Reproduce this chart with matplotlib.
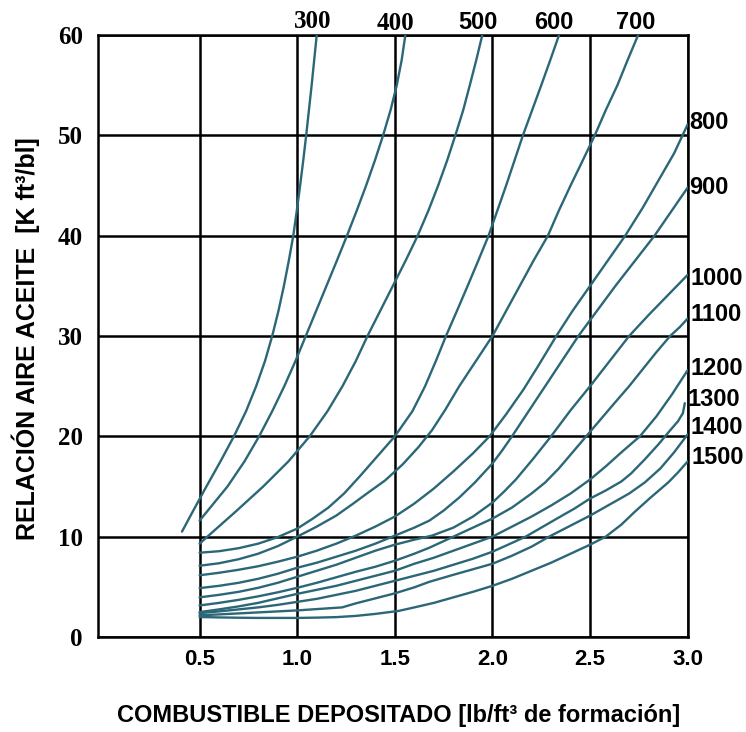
import matplotlib
matplotlib.use("Agg")
import matplotlib.pyplot as plt

# curve families, labelled by temperature
temps = [300, 400, 500, 600, 700, 800, 900, 1000, 1100, 1200, 1300, 1400, 1500]

x300 = [0.41, 0.465, 0.535, 0.607, 0.676, 0.738, 0.79, 0.835, 0.872, 0.904, 0.932, 0.957, 0.98, 0.998, 1.015, 1.031, 1.046, 1.06, 1.074, 1.087, 1.10]
y300 = [10.5, 12.5, 15.0, 17.5, 20.0, 22.5, 25.0, 27.5, 30.0, 32.5, 35.0, 37.5, 40.0, 42.5, 45.0, 47.5, 50.0, 52.5, 55.0, 57.5, 60.0]

x400 = [0.50, 0.538, 0.643, 0.73, 0.805, 0.872, 0.934, 0.991, 1.044, 1.097, 1.15, 1.203, 1.255, 1.305, 1.353, 1.398, 1.44, 1.478, 1.51, 1.535, 1.554]
y400 = [11.6, 12.5, 15.0, 17.5, 20.0, 22.5, 25.0, 27.5, 30.0, 32.5, 35.0, 37.5, 40.0, 42.5, 45.0, 47.5, 50.0, 52.5, 55.0, 57.5, 60.0]

x500 = [0.50, 0.54, 0.685, 0.826, 0.955, 1.064, 1.155, 1.232, 1.30, 1.36, 1.425, 1.49, 1.555, 1.617, 1.672, 1.722, 1.768, 1.81, 1.85, 1.884, 1.917, 1.948]
y500 = [9.3, 10.0, 12.5, 15.0, 17.5, 20.0, 22.5, 25.0, 27.5, 30.0, 32.5, 35.0, 37.5, 40.0, 42.5, 45.0, 47.5, 50.0, 52.5, 55.0, 57.5, 60.0]

x600 = [0.50, 0.60, 0.70, 0.80, 0.90, 1.00, 1.08, 1.16, 1.24, 1.32, 1.41, 1.50, 1.59, 1.655, 1.71, 1.762, 1.818, 1.873, 1.927, 1.98, 2.025, 2.07, 2.113, 2.156, 2.203, 2.25, 2.296, 2.341]
y600 = [8.4, 8.55, 8.85, 9.3, 9.95, 10.8, 11.8, 12.9, 14.3, 16.0, 18.0, 20.0, 22.5, 25.0, 27.5, 30.0, 32.5, 35.0, 37.5, 40.0, 42.5, 45.0, 47.5, 50.0, 52.5, 55.0, 57.5, 60.0]

x700 = [0.50, 0.60, 0.70, 0.80, 0.90, 1.00, 1.10, 1.20, 1.28, 1.357, 1.45, 1.54, 1.62, 1.69, 1.76, 1.83, 1.915, 2.00, 2.07, 2.14, 2.21, 2.284, 2.34, 2.40, 2.46, 2.524, 2.58, 2.64, 2.69, 2.746]
y700 = [7.1, 7.35, 7.75, 8.3, 9.05, 10.0, 11.0, 12.1, 13.2, 14.3, 15.6, 17.2, 18.9, 20.6, 22.7, 25.0, 27.5, 30.0, 32.5, 35.0, 37.5, 40.0, 42.5, 45.0, 47.4, 50.0, 52.5, 55.0, 57.4, 60.0]

x800 = [0.50, 0.60, 0.70, 0.80, 0.90, 1.00, 1.10, 1.20, 1.30, 1.40, 1.50, 1.60, 1.70, 1.80, 1.90, 1.985, 2.07, 2.16, 2.24, 2.327, 2.41, 2.50, 2.59, 2.68, 2.77, 2.85, 2.93, 3.00]
y800 = [6.15, 6.4, 6.7, 7.05, 7.5, 8.0, 8.6, 9.3, 10.1, 11.0, 12.0, 13.3, 14.8, 16.5, 18.3, 20.0, 22.2, 24.7, 27.2, 30.0, 32.5, 35.0, 37.5, 40.0, 42.8, 45.5, 48.2, 51.1]

x900 = [0.50, 0.60, 0.70, 0.80, 0.90, 1.00, 1.10, 1.20, 1.30, 1.40, 1.50, 1.60, 1.677, 1.75, 1.83, 1.91, 2.00, 2.05, 2.10, 2.185, 2.27, 2.355, 2.44, 2.535, 2.63, 2.73, 2.83, 2.915, 3.00]
y900 = [4.87, 5.1, 5.4, 5.8, 6.3, 6.9, 7.4, 8.0, 8.6, 9.3, 10.1, 10.9, 11.6, 12.6, 13.9, 15.4, 17.3, 18.6, 20.0, 22.5, 25.0, 27.5, 30.0, 32.5, 35.0, 37.5, 40.0, 42.4, 44.8]

x1000 = [0.50, 0.60, 0.70, 0.80, 0.90, 1.00, 1.10, 1.20, 1.30, 1.40, 1.50, 1.60, 1.69, 1.80, 1.90, 2.00, 2.06, 2.12, 2.21, 2.30, 2.40, 2.50, 2.60, 2.70, 2.80, 2.90, 3.00]
y1000 = [3.95, 4.2, 4.5, 4.9, 5.4, 6.0, 6.6, 7.2, 7.9, 8.6, 9.2, 9.7, 10.1, 10.9, 12.0, 13.4, 14.5, 15.7, 17.8, 20.0, 22.6, 25.0, 27.5, 30.0, 32.1, 34.1, 36.1]

x1100 = [0.50, 0.60, 0.70, 0.80, 0.90, 1.00, 1.10, 1.20, 1.30, 1.40, 1.50, 1.60, 1.677, 1.80, 1.90, 2.00, 2.10, 2.20, 2.27, 2.34, 2.41, 2.48, 2.55, 2.62, 2.70, 2.77, 2.84, 2.91, 2.96, 3.00]
y1100 = [3.14, 3.4, 3.7, 4.05, 4.45, 4.9, 5.4, 5.95, 6.5, 7.0, 7.6, 8.3, 8.9, 10.0, 10.9, 11.8, 12.9, 14.3, 15.4, 16.8, 18.4, 20.0, 21.6, 23.2, 25.0, 26.7, 28.4, 30.0, 30.9, 31.75]

x1200 = [0.50, 0.60, 0.70, 0.80, 0.90, 1.00, 1.10, 1.20, 1.30, 1.40, 1.50, 1.60, 1.70, 1.80, 1.90, 2.00, 2.10, 2.20, 2.30, 2.40, 2.50, 2.58, 2.66, 2.755, 2.84, 2.92, 3.00]
y1200 = [2.48, 2.75, 3.05, 3.4, 3.85, 4.3, 4.7, 5.1, 5.6, 6.1, 6.6, 7.3, 7.9, 8.6, 9.3, 10.0, 11.0, 12.0, 13.1, 14.3, 15.7, 17.0, 18.4, 20.0, 22.0, 24.2, 26.6]

x1300 = [0.50, 0.60, 0.70, 0.80, 0.90, 1.00, 1.10, 1.20, 1.30, 1.40, 1.50, 1.60, 1.70, 1.80, 1.90, 2.00, 2.08, 2.17, 2.25, 2.33, 2.42, 2.50, 2.58, 2.66, 2.71, 2.78, 2.85, 2.91, 2.95, 2.975, 2.985]
y1300 = [2.38, 2.55, 2.75, 2.95, 3.2, 3.5, 3.8, 4.2, 4.6, 5.1, 5.6, 6.1, 6.6, 7.2, 7.8, 8.5, 9.2, 10.0, 10.9, 11.8, 12.8, 13.8, 14.6, 15.5, 16.3, 17.7, 19.2, 20.6, 21.5, 22.3, 23.3]

x1400 = [0.50, 0.60, 0.70, 0.80, 0.90, 1.00, 1.10, 1.23, 1.30, 1.40, 1.50, 1.60, 1.677, 1.80, 1.90, 2.00, 2.10, 2.20, 2.29, 2.40, 2.50, 2.60, 2.70, 2.78, 2.86, 2.93, 3.00]
y1400 = [2.16, 2.25, 2.35, 2.45, 2.55, 2.65, 2.78, 2.95, 3.35, 3.85, 4.35, 4.95, 5.5, 6.2, 6.75, 7.3, 8.1, 9.0, 10.0, 11.1, 12.1, 13.2, 14.3, 15.4, 16.8, 18.4, 20.2]

x1500 = [0.50, 0.60, 0.70, 0.80, 0.90, 1.00, 1.10, 1.20, 1.30, 1.40, 1.52, 1.60, 1.70, 1.80, 1.90, 2.00, 2.10, 2.20, 2.30, 2.40, 2.50, 2.58, 2.66, 2.73, 2.81, 2.90, 2.95, 3.00]
y1500 = [1.99, 1.95, 1.92, 1.9, 1.9, 1.9, 1.93, 1.98, 2.1, 2.3, 2.6, 2.95, 3.4, 3.95, 4.5, 5.1, 5.8, 6.6, 7.4, 8.3, 9.2, 10.0, 11.2, 12.5, 13.9, 15.4, 16.4, 17.5]

curves = {
    300: (x300, y300), 400: (x400, y400), 500: (x500, y500),
    600: (x600, y600), 700: (x700, y700), 800: (x800, y800),
    900: (x900, y900), 1000: (x1000, y1000), 1100: (x1100, y1100),
    1200: (x1200, y1200), 1300: (x1300, y1300), 1400: (x1400, y1400),
    1500: (x1500, y1500),
}

xticks = [0.5, 1.0, 1.5, 2.0, 2.5, 3.0]
yticks = [0, 10, 20, 30, 40, 50, 60]

# label offsets (points) from each curve's end
label_offsets = {
    300: (-3, 10), 400: (-7, 8), 500: (-3, 9), 600: (-4, 9), 700: (-2, 9),
    800: (1, 1), 900: (1, 0), 1000: (2, -3), 1100: (2, 3), 1200: (2, 1),
    1300: (2, 3), 1400: (2, 5), 1500: (3, 3),
}

teal = "#2b6777"

fig = plt.figure(figsize=(7.46, 7.32), dpi=100)
ax = fig.add_axes([0.1314, 0.1298, 0.7905, 0.8224])

for t in temps:
    xs, ys = curves[t]
    ax.plot(xs, ys, color=teal, lw=1.7, solid_capstyle="round",
            solid_joinstyle="round", zorder=3)

ax.set_xlim(-0.02, 3.0)
ax.set_ylim(0, 60)
ax.set_xticks(xticks)
ax.set_yticks(yticks)
ax.set_xticklabels([f"{v:.1f}" for v in xticks], fontfamily="Liberation Sans",
                   fontweight="bold", fontsize=16)
ax.set_yticklabels([str(v) for v in yticks], fontfamily="Liberation Serif",
                   fontweight="bold", fontsize=18)
ax.tick_params(axis="x", length=0, pad=9)
ax.tick_params(axis="y", length=0, pad=11)
ax.grid(True, color="black", lw=1.8, zorder=1)
for s in ax.spines.values():
    s.set_linewidth(1.8)
    s.set_color("black")

for t in temps:
    xs, ys = curves[t]
    dx, dy = label_offsets[t]
    top = t <= 700
    serif = t <= 400
    ax.annotate(str(t), (xs[-1], ys[-1]), xytext=(dx, dy), textcoords="offset points",
                ha="center" if top else "left", va="center",
                fontsize=18 if serif else 17, fontweight="bold",
                fontfamily="Liberation Serif" if serif else "Liberation Sans",
                annotation_clip=False)

fig.text(0.034, 0.538, "RELACIÓN AIRE ACEITE  [K ft³/bl]", rotation=90,
         ha="center", va="center", fontsize=18, fontweight="bold",
         fontfamily="Liberation Sans")
fig.text(0.534, 0.022, "COMBUSTIBLE DEPOSITADO [lb/ft³ de formación]",
         ha="center", va="center", fontsize=17, fontweight="bold",
         fontfamily="Liberation Sans")

fig.savefig("out.png", dpi=100)
